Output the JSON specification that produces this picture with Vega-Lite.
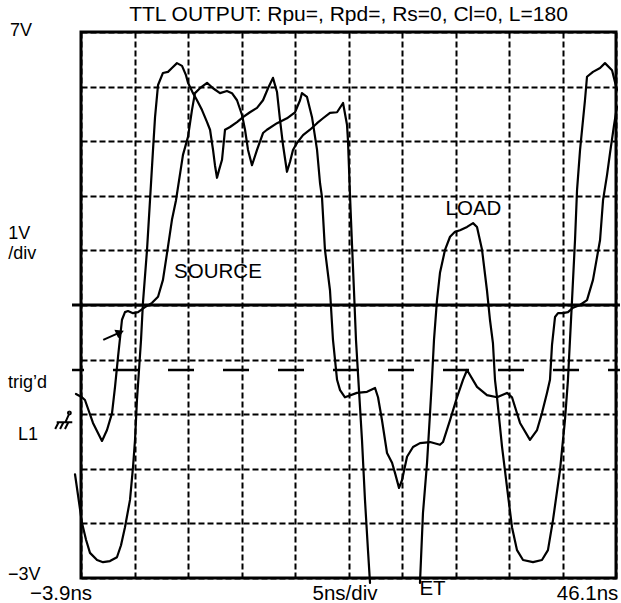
{
  "$schema": "https://vega.github.io/schema/vega-lite/v6.json",
  "width": 535,
  "height": 546,
  "autosize": {"type": "none"},
  "padding": {"left": 81, "top": 32, "right": 5, "bottom": 25},
  "background": "white",
  "config": {
    "view": {"stroke": "black", "strokeWidth": 3},
    "font": "Liberation Sans"
  },
  "title": {"text": "TTL OUTPUT: Rpu=, Rpd=, Rs=0, Cl=0, L=180", "font": "Liberation Sans", "fontSize": 21, "fontWeight": "normal", "color": "black", "anchor": "middle", "frame": "group", "offset": 0, "dy": 20, "baseline": "alphabetic"},
  "datasets": {
    "traces": [
      {"seg": "L1", "t": -4.46, "v": -1.10}, {"seg": "L1", "t": -3.81, "v": -1.99}, {"seg": "L1", "t": -3.43, "v": -2.30}, {"seg": "L1", "t": -3.06, "v": -2.54}, {"seg": "L1", "t": -2.40, "v": -2.67}, {"seg": "L1", "t": -1.84, "v": -2.71}, {"seg": "L1", "t": -1.19, "v": -2.69}, {"seg": "L1", "t": -0.54, "v": -2.62}, {"seg": "L1", "t": -0.16, "v": -2.40}, {"seg": "L1", "t": 0.21, "v": -2.07}, {"seg": "L1", "t": 0.68, "v": -1.57}, {"seg": "L1", "t": 0.96, "v": -0.97}, {"seg": "L1", "t": 1.15, "v": -0.47}, {"seg": "L1", "t": 1.33, "v": 0.26}, {"seg": "L1", "t": 1.52, "v": 0.81}, {"seg": "L1", "t": 1.71, "v": 1.36}, {"seg": "L1", "t": 1.89, "v": 2.04}, {"seg": "L1", "t": 2.27, "v": 3.01}, {"seg": "L1", "t": 2.55, "v": 3.92}, {"seg": "L1", "t": 2.83, "v": 4.84}, {"seg": "L1", "t": 3.02, "v": 5.44}, {"seg": "L1", "t": 3.30, "v": 6.03}, {"seg": "L1", "t": 3.76, "v": 6.25}, {"seg": "L1", "t": 4.23, "v": 6.27}, {"seg": "L1", "t": 4.60, "v": 6.34}, {"seg": "L1", "t": 5.07, "v": 6.43}, {"seg": "L1", "t": 5.54, "v": 6.38}, {"seg": "L1", "t": 5.91, "v": 6.21}, {"seg": "L1", "t": 6.10, "v": 6.07}, {"seg": "L1", "t": 6.57, "v": 5.88}, {"seg": "L1", "t": 6.94, "v": 5.75}, {"seg": "L1", "t": 7.41, "v": 5.57}, {"seg": "L1", "t": 7.88, "v": 5.35}, {"seg": "L1", "t": 8.16, "v": 5.21}, {"seg": "L1", "t": 8.44, "v": 4.84}, {"seg": "L1", "t": 8.62, "v": 4.56}, {"seg": "L1", "t": 8.81, "v": 4.33}, {"seg": "L1", "t": 9.00, "v": 4.47}, {"seg": "L1", "t": 9.28, "v": 4.66}, {"seg": "L1", "t": 9.56, "v": 5.21}, {"seg": "L1", "t": 10.03, "v": 5.26}, {"seg": "L1", "t": 10.68, "v": 5.35}, {"seg": "L1", "t": 11.24, "v": 5.44}, {"seg": "L1", "t": 11.89, "v": 5.53}, {"seg": "L1", "t": 12.55, "v": 5.61}, {"seg": "L1", "t": 13.11, "v": 5.75}, {"seg": "L1", "t": 13.58, "v": 5.97}, {"seg": "L1", "t": 14.04, "v": 6.16}, {"seg": "L1", "t": 14.42, "v": 5.90}, {"seg": "L1", "t": 14.70, "v": 5.39}, {"seg": "L1", "t": 14.98, "v": 4.93}, {"seg": "L1", "t": 15.35, "v": 4.44}, {"seg": "L1", "t": 15.63, "v": 4.62}, {"seg": "L1", "t": 15.91, "v": 4.84}, {"seg": "L1", "t": 16.29, "v": 4.97}, {"seg": "L1", "t": 16.85, "v": 5.11}, {"seg": "L1", "t": 17.50, "v": 5.21}, {"seg": "L1", "t": 18.16, "v": 5.33}, {"seg": "L1", "t": 18.72, "v": 5.42}, {"seg": "L1", "t": 19.37, "v": 5.52}, {"seg": "L1", "t": 20.03, "v": 5.53}, {"seg": "L1", "t": 20.59, "v": 5.70}, {"seg": "L1", "t": 20.96, "v": 5.30}, {"seg": "L1", "t": 21.05, "v": 5.02}, {"seg": "L1", "t": 21.24, "v": 4.01}, {"seg": "L1", "t": 21.43, "v": 3.10}, {"seg": "L1", "t": 21.61, "v": 2.27}, {"seg": "L1", "t": 21.80, "v": 1.36}, {"seg": "L1", "t": 22.08, "v": 0.44}, {"seg": "L1", "t": 22.36, "v": -0.47}, {"seg": "L1", "t": 22.64, "v": -1.57}, {"seg": "L1", "t": 22.92, "v": -2.49}, {"seg": "L1", "t": 23.11, "v": -3.09},
      {"seg": "L2", "t": 27.78, "v": -3.09}, {"seg": "L2", "t": 28.06, "v": -1.81}, {"seg": "L2", "t": 28.44, "v": -0.89}, {"seg": "L2", "t": 28.72, "v": 0.02}, {"seg": "L2", "t": 28.90, "v": 0.63}, {"seg": "L2", "t": 29.09, "v": 1.36}, {"seg": "L2", "t": 29.37, "v": 2.09}, {"seg": "L2", "t": 29.65, "v": 2.59}, {"seg": "L2", "t": 30.12, "v": 3.01}, {"seg": "L2", "t": 30.59, "v": 3.25}, {"seg": "L2", "t": 31.05, "v": 3.34}, {"seg": "L2", "t": 31.52, "v": 3.37}, {"seg": "L2", "t": 32.18, "v": 3.43}, {"seg": "L2", "t": 32.74, "v": 3.50}, {"seg": "L2", "t": 33.11, "v": 3.43}, {"seg": "L2", "t": 33.58, "v": 3.01}, {"seg": "L2", "t": 34.04, "v": 2.27}, {"seg": "L2", "t": 34.32, "v": 1.73}, {"seg": "L2", "t": 34.60, "v": 1.30}, {"seg": "L2", "t": 34.79, "v": 0.63}, {"seg": "L2", "t": 34.98, "v": 0.31}, {"seg": "L2", "t": 35.45, "v": -0.60}, {"seg": "L2", "t": 35.91, "v": -1.33}, {"seg": "L2", "t": 36.38, "v": -2.07}, {"seg": "L2", "t": 36.85, "v": -2.49}, {"seg": "L2", "t": 37.41, "v": -2.67}, {"seg": "L2", "t": 38.34, "v": -2.71}, {"seg": "L2", "t": 39.18, "v": -2.67}, {"seg": "L2", "t": 39.74, "v": -2.49}, {"seg": "L2", "t": 40.21, "v": -1.94}, {"seg": "L2", "t": 40.87, "v": -1.02}, {"seg": "L2", "t": 41.33, "v": -0.11}, {"seg": "L2", "t": 41.61, "v": 0.63}, {"seg": "L2", "t": 41.99, "v": 2.09}, {"seg": "L2", "t": 42.27, "v": 3.19}, {"seg": "L2", "t": 42.46, "v": 4.11}, {"seg": "L2", "t": 42.74, "v": 4.84}, {"seg": "L2", "t": 43.20, "v": 5.75}, {"seg": "L2", "t": 43.39, "v": 6.18}, {"seg": "L2", "t": 43.95, "v": 6.27}, {"seg": "L2", "t": 44.61, "v": 6.34}, {"seg": "L2", "t": 45.07, "v": 6.43}, {"seg": "L2", "t": 45.73, "v": 6.30}, {"seg": "L2", "t": 46.19, "v": 5.94},
      {"seg": "S", "t": -4.37, "v": 0.37}, {"seg": "S", "t": -3.81, "v": 0.31}, {"seg": "S", "t": -3.53, "v": 0.26}, {"seg": "S", "t": -2.78, "v": -0.16}, {"seg": "S", "t": -1.94, "v": -0.49}, {"seg": "S", "t": -1.47, "v": -0.29}, {"seg": "S", "t": -1.00, "v": 0.02}, {"seg": "S", "t": -0.72, "v": 0.50}, {"seg": "S", "t": -0.44, "v": 1.05}, {"seg": "S", "t": -0.07, "v": 1.73}, {"seg": "S", "t": 0.21, "v": 1.87}, {"seg": "S", "t": 0.49, "v": 1.89}, {"seg": "S", "t": 0.96, "v": 1.85}, {"seg": "S", "t": 1.43, "v": 1.87}, {"seg": "S", "t": 2.08, "v": 1.96}, {"seg": "S", "t": 2.74, "v": 2.04}, {"seg": "S", "t": 3.30, "v": 2.15}, {"seg": "S", "t": 3.76, "v": 2.46}, {"seg": "S", "t": 4.14, "v": 2.95}, {"seg": "S", "t": 4.60, "v": 3.56}, {"seg": "S", "t": 4.98, "v": 3.92}, {"seg": "S", "t": 5.63, "v": 4.75}, {"seg": "S", "t": 6.10, "v": 5.08}, {"seg": "S", "t": 6.47, "v": 5.57}, {"seg": "S", "t": 6.75, "v": 5.88}, {"seg": "S", "t": 7.22, "v": 5.97}, {"seg": "S", "t": 7.88, "v": 6.07}, {"seg": "S", "t": 8.44, "v": 5.97}, {"seg": "S", "t": 9.09, "v": 5.88}, {"seg": "S", "t": 9.74, "v": 5.92}, {"seg": "S", "t": 10.21, "v": 5.88}, {"seg": "S", "t": 10.68, "v": 5.75}, {"seg": "S", "t": 11.15, "v": 5.48}, {"seg": "S", "t": 11.43, "v": 5.21}, {"seg": "S", "t": 11.71, "v": 4.84}, {"seg": "S", "t": 12.08, "v": 4.56}, {"seg": "S", "t": 12.55, "v": 4.84}, {"seg": "S", "t": 13.11, "v": 5.15}, {"seg": "S", "t": 13.48, "v": 5.21}, {"seg": "S", "t": 14.42, "v": 5.33}, {"seg": "S", "t": 15.35, "v": 5.42}, {"seg": "S", "t": 16.10, "v": 5.53}, {"seg": "S", "t": 16.57, "v": 5.75}, {"seg": "S", "t": 16.75, "v": 5.88}, {"seg": "S", "t": 17.22, "v": 5.81}, {"seg": "S", "t": 17.69, "v": 5.44}, {"seg": "S", "t": 18.16, "v": 4.84}, {"seg": "S", "t": 18.44, "v": 4.23}, {"seg": "S", "t": 18.62, "v": 3.98}, {"seg": "S", "t": 18.90, "v": 3.01}, {"seg": "S", "t": 19.37, "v": 2.27}, {"seg": "S", "t": 19.65, "v": 1.36}, {"seg": "S", "t": 20.03, "v": 0.63}, {"seg": "S", "t": 20.31, "v": 0.44}, {"seg": "S", "t": 20.77, "v": 0.31}, {"seg": "S", "t": 21.89, "v": 0.39}, {"seg": "S", "t": 22.83, "v": 0.41}, {"seg": "S", "t": 23.58, "v": 0.48}, {"seg": "S", "t": 23.86, "v": 0.31}, {"seg": "S", "t": 24.23, "v": -0.11}, {"seg": "S", "t": 24.70, "v": -0.71}, {"seg": "S", "t": 25.17, "v": -0.89}, {"seg": "S", "t": 25.45, "v": -1.08}, {"seg": "S", "t": 25.82, "v": -1.35}, {"seg": "S", "t": 26.10, "v": -1.21}, {"seg": "S", "t": 26.57, "v": -0.78}, {"seg": "S", "t": 27.13, "v": -0.60}, {"seg": "S", "t": 27.78, "v": -0.53}, {"seg": "S", "t": 28.72, "v": -0.51}, {"seg": "S", "t": 29.65, "v": -0.56}, {"seg": "S", "t": 29.93, "v": -0.51}, {"seg": "S", "t": 30.59, "v": -0.11}, {"seg": "S", "t": 31.24, "v": 0.31}, {"seg": "S", "t": 31.80, "v": 0.63}, {"seg": "S", "t": 32.18, "v": 0.81}, {"seg": "S", "t": 33.11, "v": 0.50}, {"seg": "S", "t": 34.04, "v": 0.35}, {"seg": "S", "t": 34.98, "v": 0.31}, {"seg": "S", "t": 35.91, "v": 0.39}, {"seg": "S", "t": 36.38, "v": 0.31}, {"seg": "S", "t": 37.13, "v": -0.16}, {"seg": "S", "t": 38.06, "v": -0.47}, {"seg": "S", "t": 38.72, "v": -0.29}, {"seg": "S", "t": 39.18, "v": 0.02}, {"seg": "S", "t": 39.65, "v": 0.39}, {"seg": "S", "t": 39.93, "v": 0.63}, {"seg": "S", "t": 40.12, "v": 1.27}, {"seg": "S", "t": 40.40, "v": 1.78}, {"seg": "S", "t": 40.68, "v": 1.85}, {"seg": "S", "t": 41.15, "v": 1.85}, {"seg": "S", "t": 41.61, "v": 1.87}, {"seg": "S", "t": 42.08, "v": 1.95}, {"seg": "S", "t": 42.74, "v": 2.00}, {"seg": "S", "t": 43.39, "v": 2.09}, {"seg": "S", "t": 43.95, "v": 2.46}, {"seg": "S", "t": 44.61, "v": 3.19}, {"seg": "S", "t": 44.89, "v": 3.92}, {"seg": "S", "t": 45.26, "v": 4.38}, {"seg": "S", "t": 45.54, "v": 4.78}, {"seg": "S", "t": 45.92, "v": 5.30}, {"seg": "S", "t": 46.19, "v": 5.63}
    ],
    "levels": [
      {"kind": "center", "t": -4.74, "t2": 46.47, "v": 2},
      {"kind": "trig", "t": -4.74, "t2": 46.47, "v": 0.81}
    ],
    "arrow": [
      {"t": -1.82, "v": 1.36, "t2": -0.25, "v2": 1.50}
    ],
    "ground": [
      {"t": -5.49, "v": -0.12}
    ],
    "labelsLeft": [
      {"label": "7V", "t": -10.54, "v": 7.01},
      {"label": "1V\n/div", "t": -10.7, "v": 3.30},
      {"label": "trig\u2019d", "t": -10.72, "v": 0.57},
      {"label": "L1", "t": -9.79, "v": -0.38},
      {"label": "\u22123V", "t": -10.72, "v": -2.95}
    ],
    "labelsCenter": [
      {"label": "\u22123.9ns", "t": -5.77, "v": -3.30},
      {"label": "5ns/div", "t": 20.77, "v": -3.30},
      {"label": "46.1ns", "t": 43.44, "v": -3.30},
      {"label": "ET", "t": 28.95, "v": -3.20},
      {"label": "SOURCE", "t": 8.90, "v": 2.61},
      {"label": "LOAD", "t": 32.78, "v": 3.75}
    ]
  },
  "encoding": {
    "x": {"field": "t", "type": "quantitative", "scale": {"domain": [-3.9, 46.1], "nice": false, "zero": false},
      "axis": {"values": [-3.9, 1.1, 6.1, 11.1, 16.1, 21.1, 26.1, 31.1, 36.1, 41.1, 46.1], "grid": true, "gridColor": "black", "gridDash": [6, 3], "gridWidth": 2, "gridOpacity": 1, "labels": false, "ticks": false, "domain": false, "title": null}},
    "y": {"field": "v", "type": "quantitative", "scale": {"domain": [-3, 7], "nice": false, "zero": false},
      "axis": {"values": [-3, -2, -1, 0, 1, 2, 3, 4, 5, 6, 7], "grid": true, "gridColor": "black", "gridDash": [6, 3], "gridWidth": 2, "gridOpacity": 1, "labels": false, "ticks": false, "domain": false, "title": null}}
  },
  "layer": [
    {
      "data": {"name": "traces"},
      "mark": {"type": "line", "color": "black", "strokeWidth": 2.2, "strokeJoin": "round", "strokeCap": "round"},
      "encoding": {
        "detail": {"field": "seg", "type": "nominal"}
      }
    },
    {
      "data": {"name": "levels"},
      "transform": [{"filter": "datum.kind === 'center'"}],
      "mark": {"type": "rule", "color": "black", "strokeWidth": 3},
      "encoding": {
        "x2": {"field": "t2"}
      }
    },
    {
      "data": {"name": "levels"},
      "transform": [{"filter": "datum.kind === 'trig'"}],
      "mark": {"type": "rule", "color": "black", "strokeWidth": 2.6, "strokeDash": [26, 29], "strokeDashOffset": 14},
      "encoding": {
        "x2": {"field": "t2"}
      }
    },
    {
      "data": {"name": "arrow"},
      "mark": {"type": "rule", "color": "black", "strokeWidth": 2},
      "encoding": {
        "x2": {"field": "t2"},
        "y2": {"field": "v2"}
      }
    },
    {
      "data": {"name": "arrow"},
      "mark": {"type": "point", "shape": "triangle-right", "filled": true, "color": "black", "size": 90, "angle": 336, "opacity": 1},
      "encoding": {
        "x": {"field": "t2", "type": "quantitative"},
        "y": {"field": "v2", "type": "quantitative"}
      }
    },
    {
      "data": {"name": "ground"},
      "mark": {"type": "point", "shape": "M0.55,-0.75L0.15,0.15M-0.75,0.15L0.85,0.15M-0.55,0.15L-0.9,0.85M-0.05,0.15L-0.4,0.85M0.45,0.15L0.1,0.85M0.55,-0.95a0.15,0.15 0 1,0 0.01,0", "filled": false, "color": "black", "strokeWidth": 2, "size": 380, "opacity": 1},
      "encoding": {}
    },
    {
      "data": {"name": "labelsLeft"},
      "mark": {"type": "text", "align": "left", "baseline": "middle", "font": "Liberation Sans", "fontSize": 18, "lineBreak": "\n", "lineHeight": 20, "color": "black"},
      "encoding": {
        "text": {"field": "label"}
      }
    },
    {
      "data": {"name": "labelsCenter"},
      "mark": {"type": "text", "align": "center", "baseline": "middle", "font": "Liberation Sans", "fontSize": 20.5, "color": "black"},
      "encoding": {
        "text": {"field": "label"}
      }
    }
  ]
}
